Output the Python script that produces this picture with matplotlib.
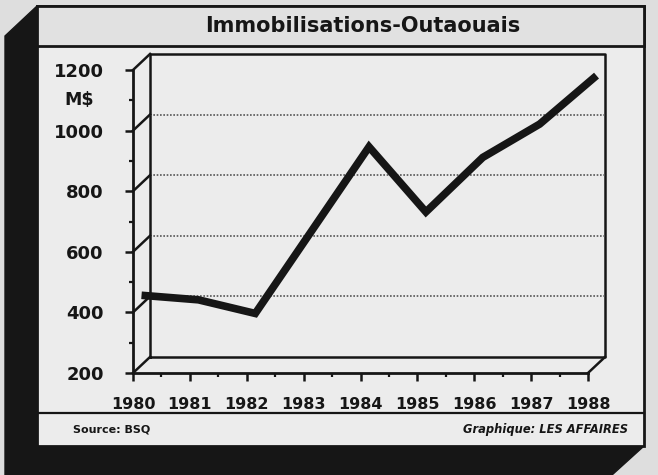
import numpy as np
import matplotlib
matplotlib.use("Agg")
import matplotlib.pyplot as plt
from matplotlib.patches import Polygon, Rectangle

# data (M$)
years = [1980, 1981, 1982, 1983, 1984, 1985, 1986, 1987, 1988]
values = [430, 415, 370, 645, 920, 705, 885, 995, 1155]
y_ticks = [200, 400, 600, 800, 1000, 1200]
grid_levels = [400, 600, 800, 1000]

title = "Immobilisations-Outaouais"
unit = "M$"
source = "Source: BSQ"
credit = "Graphique: LES AFFAIRES"

W, H = 658, 475
BG = "#dedede"
PANEL = "#ececec"
BAND = "#e1e1e1"
INK = "#161616"

fig = plt.figure(figsize=(W / 100, H / 100), dpi=100, facecolor=BG)

# ── decoration layer in pixel coordinates ──
bg = fig.add_axes([0, 0, 1, 1], zorder=0)
bg.set_xlim(0, W)
bg.set_ylim(H, 0)
bg.axis("off")

# black extruded shadow (left + bottom)
bg.add_patch(Polygon([(37, 6), (5, 36), (5, 475), (612, 475), (644, 446),
                      (37, 446)],
                     closed=True, fc=INK, ec=INK, zorder=1))
# main panel
bg.add_patch(Rectangle((37, 6), 607, 440, fc=PANEL, ec=INK, lw=2, zorder=2))
# title band
bg.add_patch(Rectangle((37, 6), 607, 40, fc=BAND, ec=INK, lw=2, zorder=3))
# footer separator
bg.plot([37, 644], [413, 413], color=INK, lw=1.6, zorder=3)

bg.text(363, 26, title, ha="center", va="center", fontsize=15,
        fontweight="bold", color=INK, zorder=4)
bg.text(79, 100, unit, ha="center", va="center", fontsize=12.5,
        fontweight="bold", color=INK, zorder=4)
bg.text(73, 430, source, ha="left", va="center", fontsize=8,
        fontweight="bold", color=INK, zorder=4)
bg.text(628, 430, credit, ha="right", va="center", fontsize=8.3,
        fontweight="bold", fontstyle="italic", color=INK, zorder=4)

# ── data axes = front plane of the 3D box ──
ax = fig.add_axes([133 / W, (H - 373) / H, 455 / W, 303 / H], zorder=2)
ax.set_facecolor("none")
ax.set_xlim(1980, 1988)
ax.set_ylim(200, 1200)

DX, DY = 0.30, 53   # depth offset of the back wall in data units

x0, x1 = years[0], years[-1]
y0, y1 = y_ticks[0], y_ticks[-1]

# back wall
ax.plot([x0 + DX, x1 + DX, x1 + DX, x0 + DX, x0 + DX],
        [y0 + DY, y0 + DY, y1 + DY, y1 + DY, y0 + DY],
        color=INK, lw=1.8, clip_on=False, zorder=2)
# dotted gridlines on the back wall
for g in grid_levels:
    ax.plot([x0 + DX, x1 + DX], [g + DY, g + DY], color="#555555",
            lw=1.2, ls=(0, (1, 1)), clip_on=False, zorder=2)
# side wall diagonals
for t in y_ticks:
    ax.plot([x0, x0 + DX], [t, t + DY], color=INK, lw=1.8,
            clip_on=False, zorder=2)
ax.plot([x1, x1 + DX], [y0, y0 + DY], color=INK, lw=1.8,
        clip_on=False, zorder=2)

# the series, in the middle of the box depth
ax.plot(np.array(years) + DX / 2, np.array(values) + DY / 2,
        color=INK, lw=5.5, solid_joinstyle="miter", solid_capstyle="butt",
        clip_on=False, zorder=3)

# axes, ticks
for s in ["top", "right"]:
    ax.spines[s].set_visible(False)
for s in ["left", "bottom"]:
    ax.spines[s].set_linewidth(2)
    ax.spines[s].set_color(INK)

ax.set_yticks(y_ticks)
ax.set_yticks([v + 100 for v in y_ticks[:-1]], minor=True)
ax.set_xticks(years)
ax.set_xticks([y + 0.5 for y in years[:-1]], minor=True)
ax.set_xticklabels([str(y) for y in years])

ax.tick_params(axis="y", which="major", direction="out", length=6, width=1.8,
               pad=15, labelsize=13, colors=INK)
ax.tick_params(axis="y", which="minor", direction="out", length=3, width=1.6,
               colors=INK)
ax.tick_params(axis="x", which="major", direction="out", length=6, width=1.8,
               pad=11, labelsize=11.5, colors=INK)
ax.tick_params(axis="x", which="minor", direction="out", length=3, width=1.6,
               colors=INK)
for lab in ax.get_xticklabels() + ax.get_yticklabels():
    lab.set_fontweight("bold")

fig.savefig("out.png", dpi=100, facecolor=fig.get_facecolor())
